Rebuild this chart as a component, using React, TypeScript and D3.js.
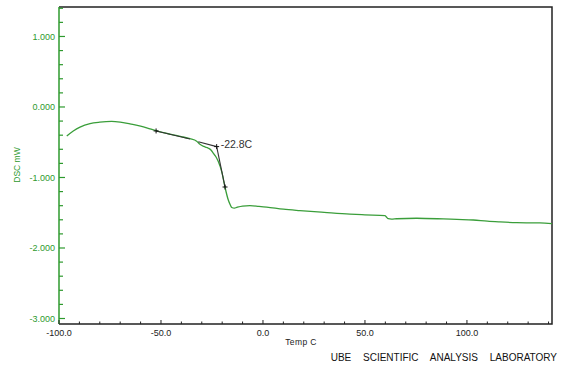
import React from "react";
import * as d3 from "d3";

const temps = [-96.2, -93, -89.7, -84.8, -80, -74.2, -70, -65.2, -60, -55.4, -52.1, -45, -40, -35.8, -32.5, -30.9, -29, -27.6, -26.8, -25.5, -24.4, -23, -21.9, -20.2, -18.6, -17.0, -16, -15.3, -14, -12.9, -10, -6.4, -2, 1.8, 10, 18.1, 30, 42.6, 50, 59.8, 60.5, 61.4, 63, 65.5, 75.3, 88.4, 95, 103.1, 110, 116.2, 124.4, 130, 135.8, 141.7];
const dsc = [-0.41, -0.34, -0.285, -0.235, -0.215, -0.205, -0.215, -0.24, -0.27, -0.31, -0.34, -0.39, -0.42, -0.45, -0.485, -0.53, -0.56, -0.575, -0.585, -0.61, -0.655, -0.71, -0.775, -0.92, -1.14, -1.32, -1.39, -1.425, -1.435, -1.425, -1.405, -1.4, -1.41, -1.42, -1.45, -1.47, -1.495, -1.52, -1.53, -1.54, -1.56, -1.585, -1.59, -1.585, -1.578, -1.588, -1.595, -1.603, -1.62, -1.63, -1.64, -1.643, -1.645, -1.655];

const tangentBase: [number, number][] = [[-52.4, -0.34], [-35.8, -0.454]];
const tangentExt: [number, number][] = [[-31.7, -0.492], [-22.7, -0.562]];
const tangentSteep: [number, number][] = [[-22.7, -0.562], [-18.6, -1.135]];
const markers: [number, number][] = [[-52.4, -0.34], [-22.7, -0.562], [-18.6, -1.135]];
const onsetLabel = "-22.8C";

const xMajor = [-100, -50, 0, 50, 100];
const xMajorLabels = ["-100.0", "-50.0", "0.0", "50.0", "100.0"];
const xMinor = [-90, -80, -70, -60, -40, -30, -20, -10, 10, 20, 30, 40, 60, 70, 80, 90, 110, 120, 130, 140];
const yMajor = [1, 0, -1, -2, -3];
const yMajorLabels = ["1.000", "0.000", "-1.000", "-2.000", "-3.000"];
const yMinor = [1.4, 1.2, 0.8, 0.6, 0.4, 0.2, -0.2, -0.4, -0.6, -0.8, -1.2, -1.4, -1.6, -1.8, -2.2, -2.4, -2.6, -2.8];

const W = 571, H = 376;
const L = 59, R = 552, T = 7, B = 324;
const GREEN = "#2e9a2e";
const FONT = "'Liberation Sans', Arial, sans-serif";

export default function App() {
  const x = d3.scaleLinear().domain([-100, 141.7]).range([L, R]);
  const y = d3.scaleLinear().domain([-3.078, 1.418]).range([B, T]);
  const pts = temps.map((t, i) => [t, dsc[i]] as [number, number]);
  const line = d3.line<[number, number]>().x(d => x(d[0])).y(d => y(d[1])).curve(d3.curveMonotoneX);
  const seg = d3.line<[number, number]>().x(d => x(d[0])).y(d => y(d[1]));

  return (
    <svg width={W} height={H} style={{ position: "fixed", left: 0, top: 0, background: "#fff" }} fontFamily={FONT}>
      <rect x={0} y={0} width={W} height={H} fill="#fff" />
      {/* frame */}
      <path d={`M${L},${T}H${R}V${B}H${L}`} fill="none" stroke="#222" strokeWidth={1.5} />
      <line x1={L} x2={L} y1={T} y2={B} stroke={GREEN} strokeWidth={1.5} />
      {/* y ticks */}
      {yMajor.map((v, i) => (
        <g key={"ym" + v}>
          <line x1={L} x2={L + 6} y1={y(v)} y2={y(v)} stroke={GREEN} strokeWidth={1.2} />
          <text x={55} y={y(v) + 3.2} fontSize={9} fill={GREEN} textAnchor="end">{yMajorLabels[i]}</text>
        </g>
      ))}
      {yMinor.map(v => (
        <line key={"yn" + v} x1={L} x2={L + 4} y1={y(v)} y2={y(v)} stroke={GREEN} strokeWidth={1.2} />
      ))}
      <text transform={`translate(20,${165}) rotate(-90)`} fontSize={8.5} fill={GREEN} textAnchor="middle">DSC mW</text>
      {/* x ticks */}
      {xMajor.map((v, i) => (
        <g key={"xm" + v}>
          <line x1={x(v)} x2={x(v)} y1={B} y2={B - 4} stroke="#222" strokeWidth={1} />
          <text x={x(v)} y={336} fontSize={9} fill="#222" textAnchor="middle">{xMajorLabels[i]}</text>
        </g>
      ))}
      {xMinor.map(v => (
        <line key={"xn" + v} x1={x(v)} x2={x(v)} y1={B} y2={B - 2.5} stroke="#222" strokeWidth={1} />
      ))}
      <text x={301} y={345} fontSize={8.5} fill="#222" textAnchor="middle" letterSpacing={0.4}>Temp C</text>
      <text x={557} y={361} fontSize={10} fill="#111" textAnchor="end" wordSpacing={9}>UBE SCIENTIFIC ANALYSIS LABORATORY</text>
      {/* curve */}
      <path d={line(pts) || ""} fill="none" stroke="#3a9e3a" strokeWidth={1.3} />
      {/* tangents */}
      {[tangentBase, tangentExt, tangentSteep].map((s, i) => (
        <path key={"t" + i} d={seg(s) || ""} fill="none" stroke="#333" strokeWidth={1.1} />
      ))}
      {markers.map((m, i) => (
        <path key={"m" + i} d={`M${x(m[0]) - 2.5},${y(m[1])}h5M${x(m[0])},${y(m[1]) - 2.5}v5`} stroke="#111" strokeWidth={1} />
      ))}
      <text x={x(markers[1][0]) + 4} y={y(markers[1][1]) + 1} fontSize={10.5} fill="#333">{onsetLabel}</text>
    </svg>
  );
}
